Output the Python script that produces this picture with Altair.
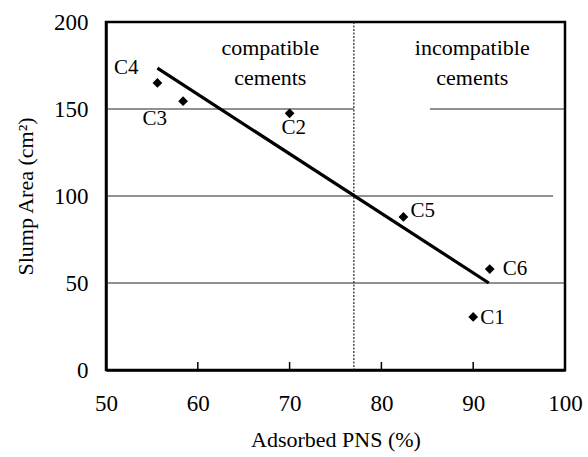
import altair as alt
import pandas as pd

# Cement samples: adsorbed PNS (%) vs slump area (cm²)
cements = ["C4", "C3", "C2", "C5", "C6", "C1"]
adsorbed = [55.6, 58.4, 70.0, 82.4, 91.8, 90.0]
slump = [165, 154.5, 147.5, 88, 58, 30.5]

# Label offsets (pixels) and alignment for each cement tag
label_dx = [-19, -16, -8, 7, 13, 7]
label_dy = [-15, 18, 15, -6, 0, 1]
label_align = ["right", "right", "left", "left", "left", "left"]

# Fitted trend line end points
fit_x = [55.6, 91.7]
fit_y = [173.5, 50.0]

# Boundary between compatible and incompatible cements
boundary = 77

# Horizontal reference lines (segments)
grid_y = [150, 150, 100, 50]
grid_x1 = [50, 85.3, 50, 50]
grid_x2 = [77, 100, 98.7, 100]

x_ticks = [60, 70, 80, 90]

FONT = "Liberation Serif"

xs = alt.Scale(domain=[50, 100], nice=False, zero=False)
ys = alt.Scale(domain=[0, 200], nice=False)

pts = pd.DataFrame({"cement": cements, "x": adsorbed, "y": slump})

x_axis = alt.Axis(values=[50, 60, 70, 80, 90, 100], labelPadding=22, titlePadding=14,
                  labelFlush=False)
y_axis = alt.Axis(values=[0, 50, 100, 150, 200], labelPadding=18, titlePadding=16)

grid = alt.Chart(pd.DataFrame({"y": grid_y, "x": grid_x1, "x2": grid_x2})).mark_rule(
    color="#222", strokeWidth=1).encode(
    x=alt.X("x:Q", scale=xs, title="Adsorbed PNS (%)", axis=x_axis),
    x2="x2:Q",
    y=alt.Y("y:Q", scale=ys, title="Slump Area (cm²)", axis=y_axis))

divider = alt.Chart(pd.DataFrame({"x": [boundary]})).mark_rule(
    color="#222", strokeWidth=1.2, strokeDash=[2, 1.5]).encode(x=alt.X("x:Q", scale=xs))

ticks = alt.Chart(pd.DataFrame({"x": x_ticks})).mark_rule(
    color="black", strokeWidth=1.5).encode(
    x=alt.X("x:Q", scale=xs), y=alt.value(348), y2=alt.value(340))

fit = alt.Chart(pd.DataFrame({"x": fit_x, "y": fit_y})).mark_line(
    color="black", strokeWidth=3.2).encode(
    x=alt.X("x:Q", scale=xs), y=alt.Y("y:Q", scale=ys))

points = alt.Chart(pts).mark_point(
    shape="diamond", filled=True, color="black", opacity=1, size=95).encode(
    x=alt.X("x:Q", scale=xs), y=alt.Y("y:Q", scale=ys))

labels = [
    alt.Chart(pts.iloc[[i]]).mark_text(
        font=FONT, fontSize=21, color="black", align=label_align[i], baseline="middle",
        dx=label_dx[i], dy=label_dy[i]).encode(
        x=alt.X("x:Q", scale=xs), y=alt.Y("y:Q", scale=ys), text="cement:N")
    for i in range(len(cements))
]

notes = pd.DataFrame({
    "x": [67.9, 67.9, 89.9, 89.9],
    "y": [181, 164, 181, 164],
    "t": ["compatible", "cements", "incompatible", "cements"],
})
annot = alt.Chart(notes).mark_text(
    font=FONT, fontSize=22, color="black", align="center", baseline="alphabetic").encode(
    x=alt.X("x:Q", scale=xs), y=alt.Y("y:Q", scale=ys), text="t:N")

chart = alt.layer(grid, divider, ticks, fit, points, *labels, annot).properties(
    width=459, height=348,
    background="white",
    autosize=alt.AutoSizeParams(type="none"),
    padding={"left": 106, "top": 22, "right": 23, "bottom": 87},
).configure_view(
    stroke="black", strokeWidth=2.5
).configure_axis(
    ticks=False, grid=False,
    domainColor="black", domainWidth=2.5,
    labelFont=FONT, labelFontSize=23, labelColor="black",
    titleFont=FONT, titleFontSize=22, titleFontWeight="normal", titleColor="black",
)

chart.save("out.html", embed_options={"renderer": "svg", "actions": False})
